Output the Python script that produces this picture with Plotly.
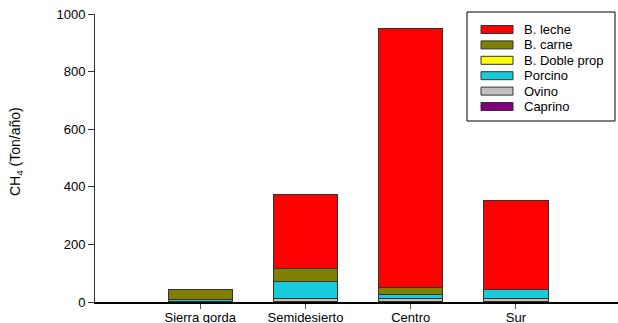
import plotly.graph_objects as go

# Regions (x categories)
regions = ["Sierra gorda", "Semidesierto", "Centro", "Sur"]

# CH4 emissions (Ton/año) by livestock type, stacked bottom -> top
caprino = [0, 3, 3, 1]
ovino = [2, 8, 9, 12]
porcino = [7, 61, 15, 32]
doble_prop = [0, 0, 0, 0]
carne = [36, 44, 24, 0]
leche = [0, 257, 897, 308]

series_names = ["Caprino", "Ovino", "Porcino", "B. Doble prop", "B. carne", "B. leche"]
series_values = [caprino, ovino, porcino, doble_prop, carne, leche]
series_colors = ["#800080", "#C0C0C0", "#19CBD9", "#FFFF00", "#808000", "#FF0000"]

y_ticks = [0, 200, 400, 600, 800, 1000]

W, H = 618, 323
L, R, T, B = 95, 618, 14, 302  # plot area in pixels

FONT = "Liberation Sans, Arial, Helvetica, sans-serif"
FS = 13

x_pos = list(range(1, len(regions) + 1))

fig = go.Figure()
for name, vals, col in zip(series_names, series_values, series_colors):
    fig.add_trace(go.Bar(
        x=x_pos, y=vals, name=name, width=0.61,
        marker=dict(color=col, line=dict(color="#333333", width=1)),
        showlegend=False,
    ))

# legend box drawn in pixel space, converted to paper coords
def px(x):
    return (x - L) / (R - L)

def py(y):
    return (B - y) / (B - T)

shapes = [dict(type="rect", xref="paper", yref="paper",
               x0=px(467), x1=px(615), y0=py(121), y1=py(12),
               line=dict(color="#000000", width=1), fillcolor="white", layer="above")]
annotations = []
legend_items = list(zip(series_names, series_colors))[::-1]
for i, (name, col) in enumerate(legend_items):
    yc = 29.5 + i * 15.4
    shapes.append(dict(type="rect", xref="paper", yref="paper",
                       x0=px(481), x1=px(513), y0=py(yc + 4), y1=py(yc - 4),
                       line=dict(color="#333333", width=1), fillcolor=col, layer="above"))
    annotations.append(dict(xref="paper", yref="paper", x=px(522), y=py(yc),
                            text=name, showarrow=False, xanchor="left", yanchor="middle",
                            font=dict(family=FONT, size=FS, color="black")))

annotations.append(dict(xref="paper", yref="paper", x=px(16), y=py(152),
                        text="CH<sub>4</sub> (Ton/año)", textangle=-90, showarrow=False,
                        xanchor="center", yanchor="middle",
                        font=dict(family=FONT, size=14, color="black")))

fig.update_layout(
    width=W, height=H,
    margin=dict(l=L, r=W - R, t=T, b=H - B, pad=0, autoexpand=False),
    barmode="stack",
    plot_bgcolor="white", paper_bgcolor="white",
    font=dict(family=FONT, size=FS, color="black"),
    shapes=shapes, annotations=annotations,
    xaxis=dict(range=[0, 4.97], tickvals=x_pos, ticktext=regions, automargin=False,
               showgrid=False, zeroline=False, showline=True, linecolor="black", linewidth=2,
               ticks="outside", ticklen=5, tickcolor="#555555", tickwidth=1,
               ticklabelstandoff=-3,
               tickfont=dict(family=FONT, size=FS, color="black")),
    yaxis=dict(range=[0, 1000], tickvals=y_ticks, automargin=False,
               showgrid=False, zeroline=False,
               showline=True, linecolor="#333333", linewidth=1,
               ticks="outside", ticklen=6, tickcolor="#333333", tickwidth=1,
               tickfont=dict(family=FONT, size=FS, color="black")),
)

fig.write_html("out.html")
